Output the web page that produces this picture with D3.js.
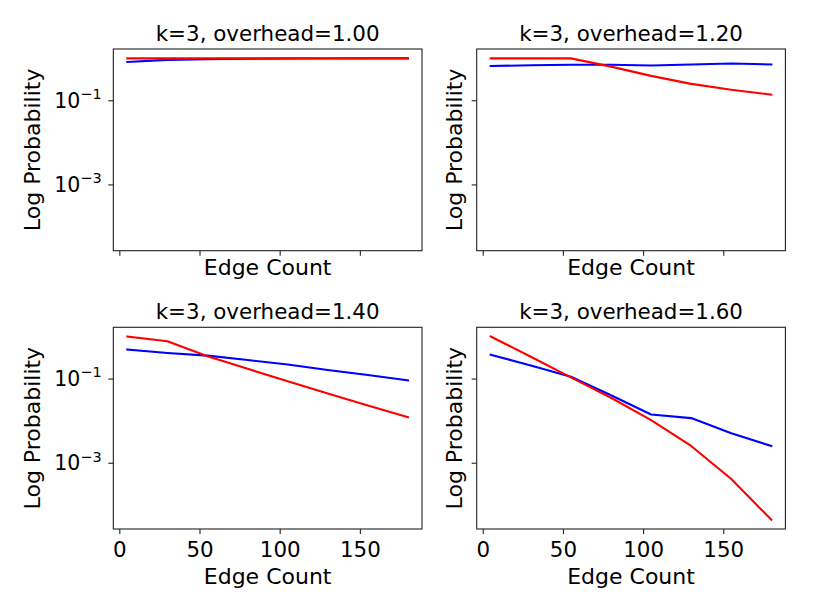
<!DOCTYPE html>
<html><head><meta charset="utf-8">
<script src="https://cdn.jsdelivr.net/npm/d3@7"></script>
<style>
body{margin:0;background:#fff}
text{font-family:"DejaVu Sans",sans-serif;fill:#000}
</style>
</head><body>
<svg id="c" width="814" height="610"></svg>
<script>
// ---- data ----
const edgeCounts = [5, 30, 55, 80, 105, 130, 155, 180];
const overheads = ["1.00", "1.20", "1.40", "1.60"];
const kValue = 3;
const xTickValues = [0, 50, 100, 150];
const yTickExponents = [-1, -3];

const blue100 = [0.81, 0.91, 0.95, 0.97, 0.98, 0.985, 0.99, 0.99];
const red100  = [0.99, 0.99, 0.99, 0.99, 0.99, 0.995, 0.995, 0.995];
const blue120 = [0.65, 0.68, 0.70, 0.70, 0.67, 0.71, 0.75, 0.71];
const red120  = [0.99, 0.99, 0.99, 0.63, 0.38, 0.245, 0.178, 0.136];
const blue140 = [0.49, 0.405, 0.35, 0.275, 0.215, 0.16, 0.122, 0.091];
const red140  = [1.0, 0.77, 0.34, 0.17, 0.086, 0.044, 0.023, 0.012];
const blue160 = [0.37, 0.204, 0.11, 0.04, 0.014, 0.0115, 0.005, 0.0025];
const red160  = [1.0, 0.33, 0.107, 0.035, 0.0103, 0.0025, 0.00041, 0.000044];

const blueByPanel = [blue100, blue120, blue140, blue160];
const redByPanel  = [red100, red120, red140, red160];

// ---- layout ----
const svg = d3.select("#c");
const W = 308.7, H = 201.7;
const colX = [113.3, 476.7];
const rowY = [49, 327.3];
const FS = 21.4;

// shared scales (sharex / sharey)
const xMin = d3.min(edgeCounts), xMax = d3.max(edgeCounts);
const xPad = (xMax - xMin) * 0.05;
const allVals = blueByPanel.flat().concat(redByPanel.flat());
const lMin = Math.log10(d3.min(allVals)), lMax = Math.log10(d3.max(allVals));
const lPad = (lMax - lMin) * 0.05;

overheads.forEach((oh, i) => {
  const row = Math.floor(i / 2), col = i % 2;
  const g = svg.append("g").attr("transform", `translate(${colX[col]},${rowY[row]})`);
  const x = d3.scaleLinear().domain([xMin - xPad, xMax + xPad]).range([0, W]);
  const y = d3.scaleLog().domain([Math.pow(10, lMin - lPad), Math.pow(10, lMax + lPad)]).range([H, 0]);

  // lines
  const line = d3.line().x((d, j) => x(edgeCounts[j])).y(d => y(d));
  const clipId = "clip" + i;
  g.append("clipPath").attr("id", clipId).append("rect").attr("width", W).attr("height", H);
  const lg = g.append("g").attr("clip-path", `url(#${clipId})`);
  lg.append("path").datum(blueByPanel[i]).attr("d", line)
    .attr("fill", "none").attr("stroke", "#0000ff").attr("stroke-width", 2.1)
    .attr("stroke-linejoin", "round").attr("stroke-linecap", "square");
  lg.append("path").datum(redByPanel[i]).attr("d", line)
    .attr("fill", "none").attr("stroke", "#ff0000").attr("stroke-width", 2.1)
    .attr("stroke-linejoin", "round").attr("stroke-linecap", "square");

  // x axis
  const xAxis = d3.axisBottom(x).tickValues(xTickValues).tickSize(5).tickPadding(4)
    .tickFormat(row === 1 ? d3.format("d") : () => "");
  const xa = g.append("g").attr("transform", `translate(0,${H})`).call(xAxis);
  xa.select(".domain").remove();
  xa.selectAll(".tick line").attr("stroke", "#222").attr("stroke-width", 1.1);
  xa.selectAll(".tick text").attr("font-size", FS).attr("font-family", "DejaVu Sans").attr("fill", "#000")
    .attr("dy", null).attr("y", 27.5);

  // y axis
  const ya = g.append("g").call(d3.axisLeft(y).tickValues(yTickExponents.map(e => Math.pow(10, e)))
    .tickSize(5).tickFormat(() => ""));
  ya.select(".domain").remove();
  ya.selectAll(".tick line").attr("stroke", "#222").attr("stroke-width", 1.1);
  if (col === 0) {
    yTickExponents.forEach(e => {
      const t = g.append("text").attr("x", -11.6).attr("y", y(Math.pow(10, e)) + 7.3)
        .attr("text-anchor", "end").attr("font-size", 20.5);
      t.append("tspan").text("10");
      t.append("tspan").attr("font-size", 14.5).attr("dy", -8.5).text("\u2212" + Math.abs(e));
    });
  }

  // frame
  g.append("rect").attr("width", W).attr("height", H).attr("fill", "none")
    .attr("stroke", "#222").attr("stroke-width", 1.1);

  // title
  g.append("text").attr("x", W / 2).attr("y", -8.5).attr("text-anchor", "middle")
    .attr("font-size", FS).text(`k=${kValue}, overhead=${oh}`);

  // x label
  g.append("text").attr("x", W / 2).attr("y", row === 1 ? H + 55 : H + 24.3)
    .attr("text-anchor", "middle").attr("font-size", 22).text("Edge Count");

  // y label
  const lx = col === 0 ? 40 - colX[0] : 462 - colX[1];
  g.append("text").attr("transform", `translate(${lx},${H / 2}) rotate(-90)`)
    .attr("text-anchor", "middle").attr("font-size", 22).text("Log Probability");
});
</script>
</body></html>
